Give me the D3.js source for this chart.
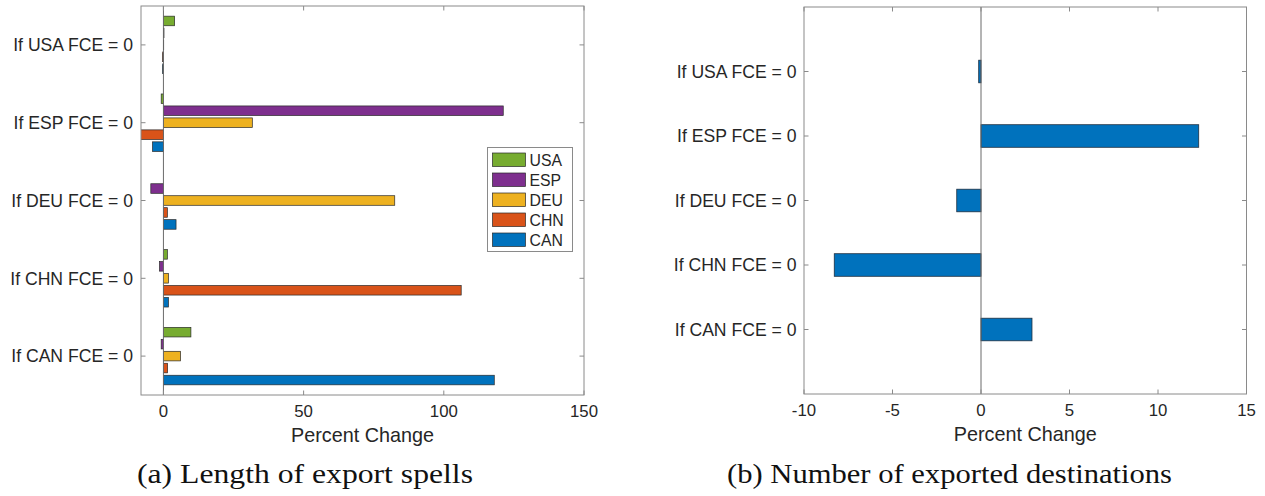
<!DOCTYPE html>
<html>
<head>
<meta charset="utf-8">
<script src="https://cdn.jsdelivr.net/npm/d3@7/dist/d3.min.js"></script>
<style>
  html, body { margin: 0; padding: 0; background: #fff; }
  svg { display: block; }
  text { font-family: "Liberation Sans", Arial, Helvetica, sans-serif; fill: #262626; }
  .cap { font-family: "Liberation Serif", "DejaVu Serif", serif; fill: #111; }
</style>
</head>
<body>
<svg id="chart" width="1265" height="496"></svg>
<script>
// ---------- DATA ----------
const scenarios = ["If USA FCE = 0", "If ESP FCE = 0", "If DEU FCE = 0", "If CHN FCE = 0", "If CAN FCE = 0"];
const countries = ["USA", "ESP", "DEU", "CHN", "CAN"];
const colors = ["#77AC30", "#7E2F8E", "#EDB120", "#D95319", "#0072BD"];
// Panel (a): one array per country, values per scenario (USA, ESP, DEU, CHN, CAN FCE = 0)
const spellUSA = [4.0, -0.8, 0.0, 1.4, 9.8];
const spellESP = [0.2, 121.2, -4.5, -1.4, -0.8];
const spellDEU = [0.1, 31.7, 82.5, 1.8, 6.1];
const spellCHN = [-0.3, -9.0, 1.4, 106.2, 1.5];
const spellCAN = [-0.3, -3.9, 4.5, 1.8, 118.0];
// Panel (b)
const destChange = [-0.13, 12.3, -1.37, -8.29, 2.88];
const xTicksA = [0, 50, 100, 150];
const xTicksB = [-10, -5, 0, 5, 10, 15];

const spellSeries = [spellUSA, spellESP, spellDEU, spellCHN, spellCAN];

const svg = d3.select("#chart");
const axisColor = "#8a8a8a";
const tickFont = 16.8;

function drawFrame(g, x, y, xTicks, yIdx, tickLen) {
  const [x0, x1] = x.range();
  const [y0, y1] = y.range();
  xTicks.forEach(t => {
    g.append("line").attr("x1", x(t)).attr("x2", x(t)).attr("y1", y1).attr("y2", y1 - tickLen)
      .attr("stroke", axisColor);
    g.append("line").attr("x1", x(t)).attr("x2", x(t)).attr("y1", y0).attr("y2", y0 + tickLen)
      .attr("stroke", axisColor);
  });
  yIdx.forEach(i => {
    g.append("line").attr("x1", x0).attr("x2", x0 + tickLen).attr("y1", y(i)).attr("y2", y(i))
      .attr("stroke", axisColor);
    g.append("line").attr("x1", x1).attr("x2", x1 - tickLen).attr("y1", y(i)).attr("y2", y(i))
      .attr("stroke", axisColor);
  });
  g.append("rect").attr("x", x0).attr("y", y0).attr("width", x1 - x0).attr("height", y1 - y0)
    .attr("fill", "none").attr("stroke", axisColor).attr("stroke-width", 1);
}

function labels(g, x, y, xTicks, labelGap) {
  const [x0, x1] = x.range();
  const [y0, y1] = y.range();
  g.selectAll(".xtl").data(xTicks).enter().append("text")
    .attr("x", d => x(d)).attr("y", y1 + 22).attr("text-anchor", "middle")
    .style("font-size", tickFont + "px").text(d => d);
  g.selectAll(".ytl").data(scenarios).enter().append("text")
    .attr("x", x0 - labelGap).attr("y", (d, i) => y(i + 1)).attr("dy", "0.36em")
    .attr("text-anchor", "end").style("font-size", "17.6px").text(d => d);
  g.append("text").attr("x", (x0 + x1) / 2).attr("y", y1 + 46.5).attr("text-anchor", "middle")
    .style("font-size", "19.8px").text("Percent Change");
}

// ---------- Panel (a) ----------
{
  const g = svg.append("g");
  const x = d3.scaleLinear().domain([-8, 150]).range([141, 584]);
  const y = d3.scaleLinear().domain([0.5, 5.5]).range([6, 395]);
  const nS = countries.length;
  const groupW = Math.min(0.8, nS / (nS + 1.5));
  const step = groupW / nS;
  const barH = step * 0.8;

  svg.append("defs").append("clipPath").attr("id", "clipA")
    .append("rect").attr("x", 141).attr("y", 6).attr("width", 443).attr("height", 389);

  const bars = g.append("g").attr("clip-path", "url(#clipA)");
  countries.forEach((c, j) => {
    bars.selectAll(".b" + j).data(spellSeries[j]).enter().append("rect")
      .attr("x", d => x(Math.min(0, d)))
      .attr("width", d => Math.abs(x(d) - x(0)))
      .attr("y", (d, i) => y(i + 1 + (j - (nS - 1) / 2) * step - barH / 2))
      .attr("height", y(barH) - y(0))
      .attr("fill", colors[j]).attr("stroke", "#2a2a2a").attr("stroke-width", 0.7);
  });
  g.append("line").attr("x1", x(0)).attr("x2", x(0)).attr("y1", 6).attr("y2", 395)
    .attr("stroke", "#6a6a6a").attr("stroke-width", 1);
  drawFrame(g, x, y, xTicksA, [1, 2, 3, 4, 5], 4.5);
  labels(g, x, y, xTicksA, 8);

  const lg = g.append("g").attr("transform", "translate(487.5,147.5)");
  lg.append("rect").attr("width", 85).attr("height", 104).attr("fill", "#fff")
    .attr("stroke", axisColor).attr("stroke-width", 1);
  countries.forEach((c, j) => {
    lg.append("rect").attr("x", 5).attr("y", 5.5 + j * 20).attr("width", 33).attr("height", 13.5)
      .attr("fill", colors[j]).attr("stroke", "#2a2a2a").attr("stroke-width", 0.7);
    lg.append("text").attr("x", 42).attr("y", 12.5 + j * 20).attr("dy", "0.36em")
      .style("font-size", "15.8px").text(c);
  });

  svg.append("text").attr("class", "cap").attr("x", 137).attr("y", 483)
    .attr("textLength", 336).attr("lengthAdjust", "spacingAndGlyphs")
    .style("font-size", "27px").text("(a) Length of export spells");
}

// ---------- Panel (b) ----------
{
  const g = svg.append("g");
  const x = d3.scaleLinear().domain([-10, 15]).range([804, 1246.5]);
  const y = d3.scaleLinear().domain([0, 6]).range([7, 394]);
  const barH = 0.35;
  g.selectAll(".bb").data(destChange).enter().append("rect")
    .attr("x", d => x(Math.min(0, d)))
    .attr("width", d => Math.abs(x(d) - x(0)))
    .attr("y", (d, i) => y(i + 1 - barH / 2))
    .attr("height", y(barH) - y(0))
    .attr("fill", "#0072BD").attr("stroke", "#1f2f3f").attr("stroke-width", 0.8);
  g.append("line").attr("x1", x(0)).attr("x2", x(0)).attr("y1", 7).attr("y2", 394)
    .attr("stroke", "#6a6a6a").attr("stroke-width", 1);
  drawFrame(g, x, y, xTicksB, [1, 2, 3, 4, 5], 4.5);
  labels(g, x, y, xTicksB, 7.5);

  svg.append("text").attr("class", "cap").attr("x", 727).attr("y", 483)
    .attr("textLength", 445).attr("lengthAdjust", "spacingAndGlyphs")
    .style("font-size", "27px").text("(b) Number of exported destinations");
}
</script>
</body>
</html>
